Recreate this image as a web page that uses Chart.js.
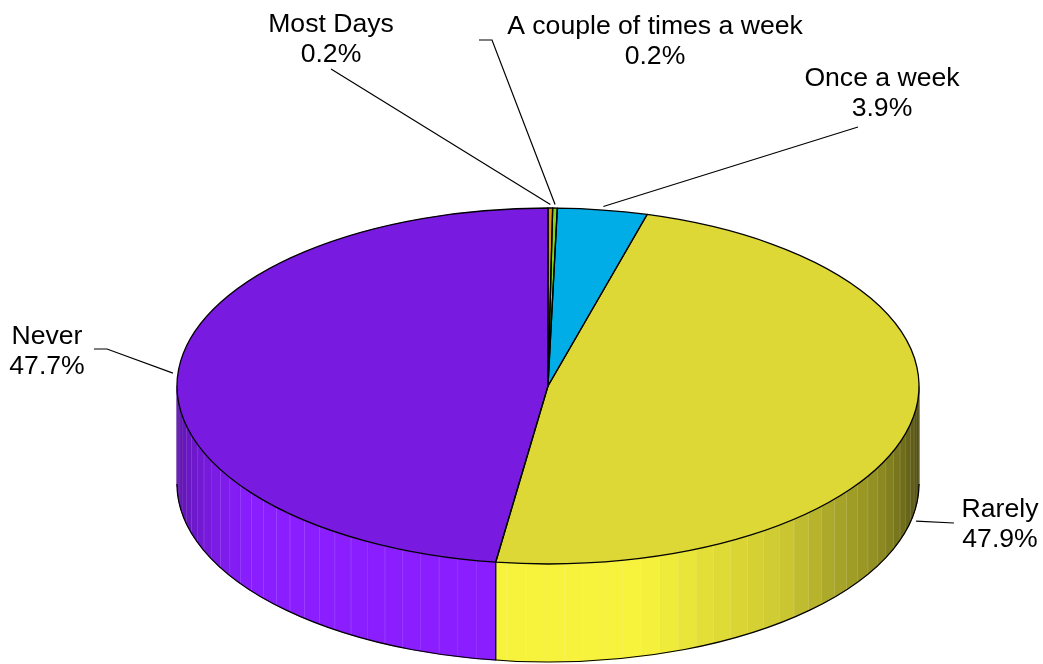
<!DOCTYPE html>
<html>
<head>
<meta charset="utf-8">
<style>
  html, body { margin: 0; background: #fff; }
  canvas { display: block; }
</style>
<script src="https://cdn.jsdelivr.net/npm/chart.js@4"></script>
</head>
<body>
<canvas id="pie" width="1043" height="664"></canvas>
<script>
const categories = ['Most Days', 'A couple of times a week', 'Once a week', 'Rarely', 'Never'];
const shares = [0.2, 0.2, 3.9, 47.9, 47.7];
const topColors = ['#E0920F', '#7FD41C', '#00ADE6', '#DDD835', '#791AE0'];
const wallColors = [[255, 166, 18], [144, 240, 32], [0, 196, 255], [247, 242, 60], [138, 30, 255]];

const disc = { cx: 548, cy: 386, rx: 371, ry: 178, depth: 98 };
const FACET = Math.PI / 60;

// label centre, first baseline, optional elbow of the leader line, leader start
const labelSpots = [
    { x: 331, y: 32, from: [331, 69] },
    { x: 655, y: 34, from: [479, 40], elbow: [492, 40] },
    { x: 882, y: 86, from: [858, 127] },
    { x: 1000, y: 517, from: [954, 523] },
    { x: 47, y: 344, from: [94, 349], elbow: [107, 349] }
];

// brightness of the side wall, phi = 0 at the front, positive to the right
const shadeStops = [[-90, 0.62], [-53, 1], [15, 1], [28, 0.9], [39, 0.83], [49, 0.7], [63, 0.58], [74, 0.44], [85, 0.32], [90, 0.28]];

function shadeAt(phi) {
    for (let i = 1; i < shadeStops.length; i++) {
        const [p0, s0] = shadeStops[i - 1];
        const [p1, s1] = shadeStops[i];
        if (phi <= p1) return s0 + (s1 - s0) * (phi - p0) / (p1 - p0);
    }
    return shadeStops[shadeStops.length - 1][1];
}

const px = a => disc.cx + disc.rx * Math.cos(a);
const py = a => disc.cy + disc.ry * Math.sin(a);

function drawWall(chart) {
    const ctx = chart.ctx;
    const arcs = chart.getDatasetMeta(0).data;
    ctx.save();
    arcs.forEach((arc, i) => {
        const from = Math.max(arc.startAngle, 0);
        const to = Math.min(arc.endAngle, Math.PI);
        if (to <= from) return;
        let a = arc.startAngle;
        while (a + FACET <= from) a += FACET;
        while (a < to) {
            const a0 = Math.max(a, from);
            const a1 = Math.min(a + FACET, to);
            const phi = 90 - (a0 + a1) / 2 * 180 / Math.PI;
            const s = shadeAt(phi);
            const c = wallColors[i].map(v => Math.round(v * s));
            ctx.fillStyle = ctx.strokeStyle = `rgb(${c.join(',')})`;
            ctx.lineWidth = 0.6;
            ctx.beginPath();
            ctx.ellipse(disc.cx, disc.cy, disc.rx, disc.ry, 0, a0, a1);
            ctx.ellipse(disc.cx, disc.cy + disc.depth, disc.rx, disc.ry, 0, a1, a0, true);
            ctx.closePath();
            ctx.fill();
            ctx.stroke();
            if (a1 < to) {
                ctx.strokeStyle = 'rgba(255,255,255,0.33)';
                ctx.lineWidth = 1;
                ctx.beginPath();
                ctx.moveTo(px(a1), py(a1));
                ctx.lineTo(px(a1), py(a1) + disc.depth);
                ctx.stroke();
            }
            a += FACET;
        }
    });
    ctx.strokeStyle = '#000';
    ctx.lineWidth = 1.2;
    ctx.beginPath();
    ctx.ellipse(disc.cx, disc.cy + disc.depth, disc.rx, disc.ry, 0, 0, Math.PI);
    ctx.stroke();
    // seam between the two big slices
    arcs.forEach(arc => {
        if (arc.startAngle > 0 && arc.startAngle < Math.PI) {
            ctx.strokeStyle = '#000';
            ctx.lineWidth = 1.4;
            ctx.beginPath();
            ctx.moveTo(px(arc.startAngle), py(arc.startAngle));
            ctx.lineTo(px(arc.startAngle), py(arc.startAngle) + disc.depth);
            ctx.stroke();
        }
    });
    ctx.restore();
}

function drawOutlines(chart) {
    const ctx = chart.ctx;
    ctx.save();
    ctx.strokeStyle = '#000';
    ctx.lineWidth = 1.3;
    ctx.lineJoin = 'round';
    chart.getDatasetMeta(0).data.forEach(arc => {
        ctx.beginPath();
        ctx.moveTo(disc.cx, disc.cy);
        ctx.ellipse(disc.cx, disc.cy, disc.rx, disc.ry, 0, arc.startAngle, arc.endAngle);
        ctx.closePath();
        ctx.stroke();
    });
    ctx.restore();
}

function drawLabels(chart) {
    const ctx = chart.ctx;
    ctx.save();
    chart.getDatasetMeta(0).data.forEach((arc, i) => {
        const spot = labelSpots[i];
        const mid = (arc.startAngle + arc.endAngle) / 2;
        const front = Math.sin(mid) > 0;
        const ex = px(mid) + Math.cos(mid) * 5;
        const ey = py(mid) + (front ? disc.depth : 0) + Math.sin(mid) * 3.5;
        ctx.strokeStyle = '#000';
        ctx.lineWidth = 1.2;
        ctx.beginPath();
        ctx.moveTo(spot.from[0], spot.from[1]);
        if (spot.elbow) ctx.lineTo(spot.elbow[0], spot.elbow[1]);
        ctx.lineTo(ex, ey);
        ctx.stroke();

        ctx.fillStyle = '#000';
        ctx.font = '26.6px "Liberation Sans", Arial, sans-serif';
        ctx.textAlign = 'center';
        ctx.textBaseline = 'alphabetic';
        ctx.fillText(categories[i], spot.x, spot.y);
        ctx.fillText(shares[i].toFixed(1) + '%', spot.x, spot.y + 30);
    });
    ctx.restore();
}

// the library draws a round pie, this squashes it onto the tilted disc
const tiltPlugin = {
    id: 'tilt',
    beforeDatasetsDraw(chart) {
        drawWall(chart);
        const ctx = chart.ctx;
        const arc = chart.getDatasetMeta(0).data[0];
        ctx.save();
        ctx.translate(disc.cx, disc.cy);
        ctx.scale(disc.rx / arc.outerRadius, disc.ry / arc.outerRadius);
        ctx.translate(-arc.x, -arc.y);
    },
    afterDatasetsDraw(chart) {
        chart.ctx.restore();
        drawOutlines(chart);
        drawLabels(chart);
    }
};

new Chart(document.getElementById('pie').getContext('2d'), {
    type: 'pie',
    data: {
        labels: categories,
        datasets: [{
            data: shares,
            backgroundColor: topColors,
            borderWidth: 0,
            clip: false
        }]
    },
    options: {
        responsive: false,
        animation: false,
        rotation: 0,
        plugins: { legend: { display: false }, tooltip: { enabled: false } }
    },
    plugins: [tiltPlugin]
});
</script>
</body>
</html>
